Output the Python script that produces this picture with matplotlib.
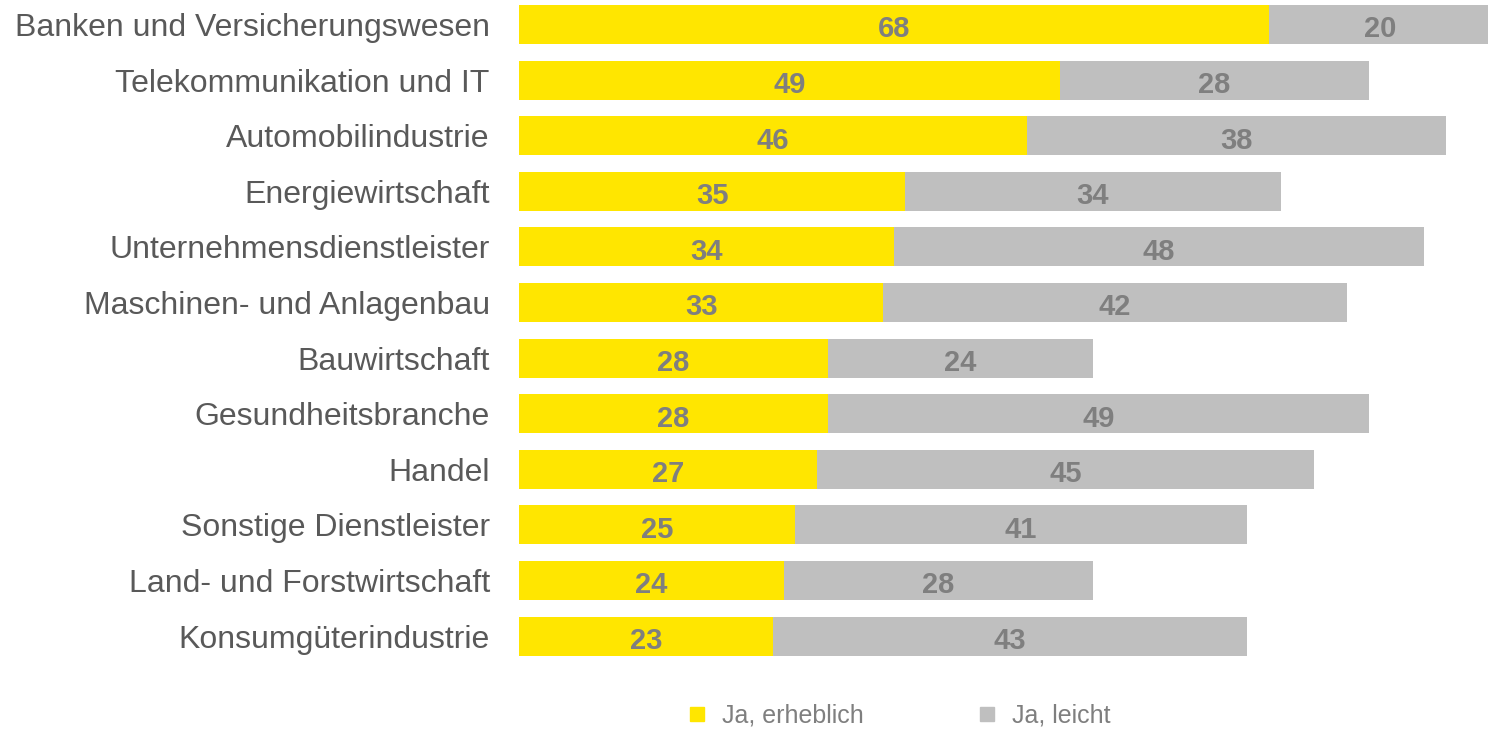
import matplotlib.pyplot as plt
from matplotlib.lines import Line2D

plt.rcParams['font.family'] = ['Liberation Sans', 'DejaVu Sans']

branchen = ['Banken und Versicherungswesen', 'Telekommunikation und IT', 'Automobilindustrie',
            'Energiewirtschaft', 'Unternehmensdienstleister', 'Maschinen- und Anlagenbau',
            'Bauwirtschaft', 'Gesundheitsbranche', 'Handel', 'Sonstige Dienstleister',
            'Land- und Forstwirtschaft', 'Konsumgüterindustrie']
erheblich = [68, 49, 46, 35, 34, 33, 28, 28, 27, 25, 24, 23]
leicht = [20, 28, 38, 34, 48, 42, 24, 49, 45, 41, 28, 43]

gelb = '#FFE600'
grau = '#BFBFBF'

fig = plt.figure(figsize=(14.88, 7.29), dpi=100)
ax = fig.add_axes([519 / 1488, 1 - 665 / 729, 1 - 519 / 1488, 665 / 729])

pos = list(range(len(branchen)))
b1 = ax.barh(pos, erheblich, height=0.70, color=gelb, label='Ja, erheblich')
b2 = ax.barh(pos, leicht, left=erheblich, height=0.70, color=grau, label='Ja, leicht')

# Werte mittig in die Segmente schreiben
for i in pos:
    for start, wert in ((0, erheblich[i]), (erheblich[i], leicht[i])):
        ax.annotate(str(wert), (start + wert / 2, i), xytext=(0, -9.3),
                    textcoords='offset points', ha='center', va='baseline',
                    color='#7F7F7F', fontsize=21, fontweight='bold')

ax.set_xlim(0, 87.8)
ax.set_ylim(11.52, -0.44)
ax.set_yticks(pos)
ax.set_yticklabels(branchen, fontsize=23, color='#595959')
ax.tick_params(axis='y', length=0, pad=21)
ax.set_xticks([])
for s in ax.spines.values():
    s.set_visible(False)

handles = [Line2D([], [], marker='s', linestyle='none', markersize=10, color=gelb),
           Line2D([], [], marker='s', linestyle='none', markersize=10, color=grau)]
leg = fig.legend(handles, ['Ja, erheblich', 'Ja, leicht'], loc='center',
                 bbox_to_anchor=(0.604, 0.018), ncol=2, frameon=False, fontsize=18,
                 handlelength=0.8, handletextpad=0.6, columnspacing=4.5,
                 borderaxespad=0, borderpad=0)
for t in leg.get_texts():
    t.set_color('#7F7F7F')

fig.savefig('out.png', dpi=100)
